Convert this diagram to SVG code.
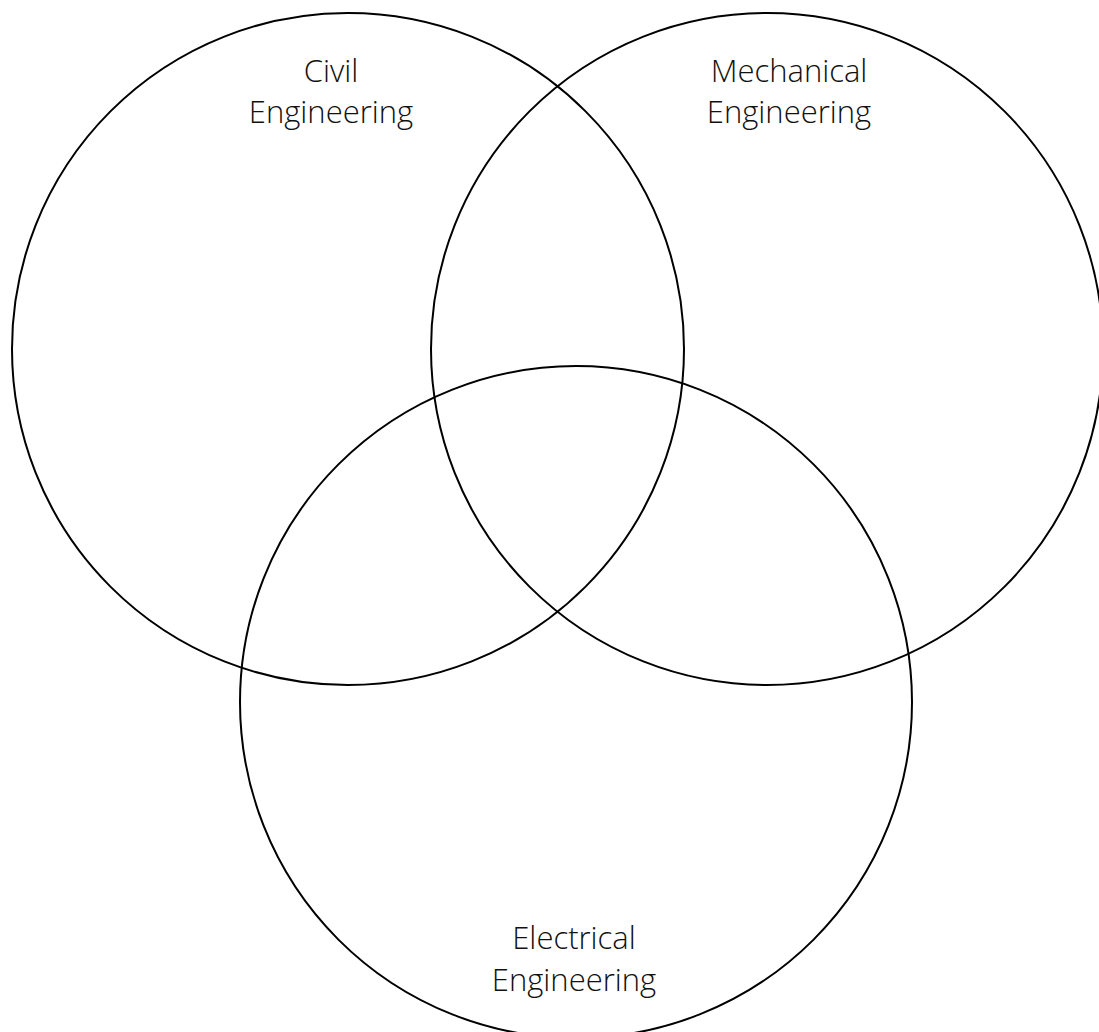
<svg xmlns="http://www.w3.org/2000/svg" width="1099" height="1032" viewBox="0 0 1099 1032">
<style>
.c{fill:none;stroke:#000;stroke-width:2}
.t{font-family:"Open Sans","Liberation Sans",sans-serif;font-weight:300;font-size:31px;fill:#111;text-anchor:middle}
</style>
<rect width="1099" height="1032" fill="#fff"/>
<g id="civil"><circle class="c" cx="348" cy="349" r="336"/><text class="t"><tspan x="331" y="82">Civil</tspan><tspan x="331" y="123">Engineering</tspan></text></g>
<g id="mechanical"><circle class="c" cx="767" cy="349" r="336"/><text class="t"><tspan x="789" y="82">Mechanical</tspan><tspan x="789" y="123">Engineering</tspan></text></g>
<g id="electrical"><circle class="c" cx="576" cy="702" r="336"/><text class="t"><tspan x="574" y="949">Electrical</tspan><tspan x="574" y="991">Engineering</tspan></text></g>
<g id="connectors"></g>
</svg>
